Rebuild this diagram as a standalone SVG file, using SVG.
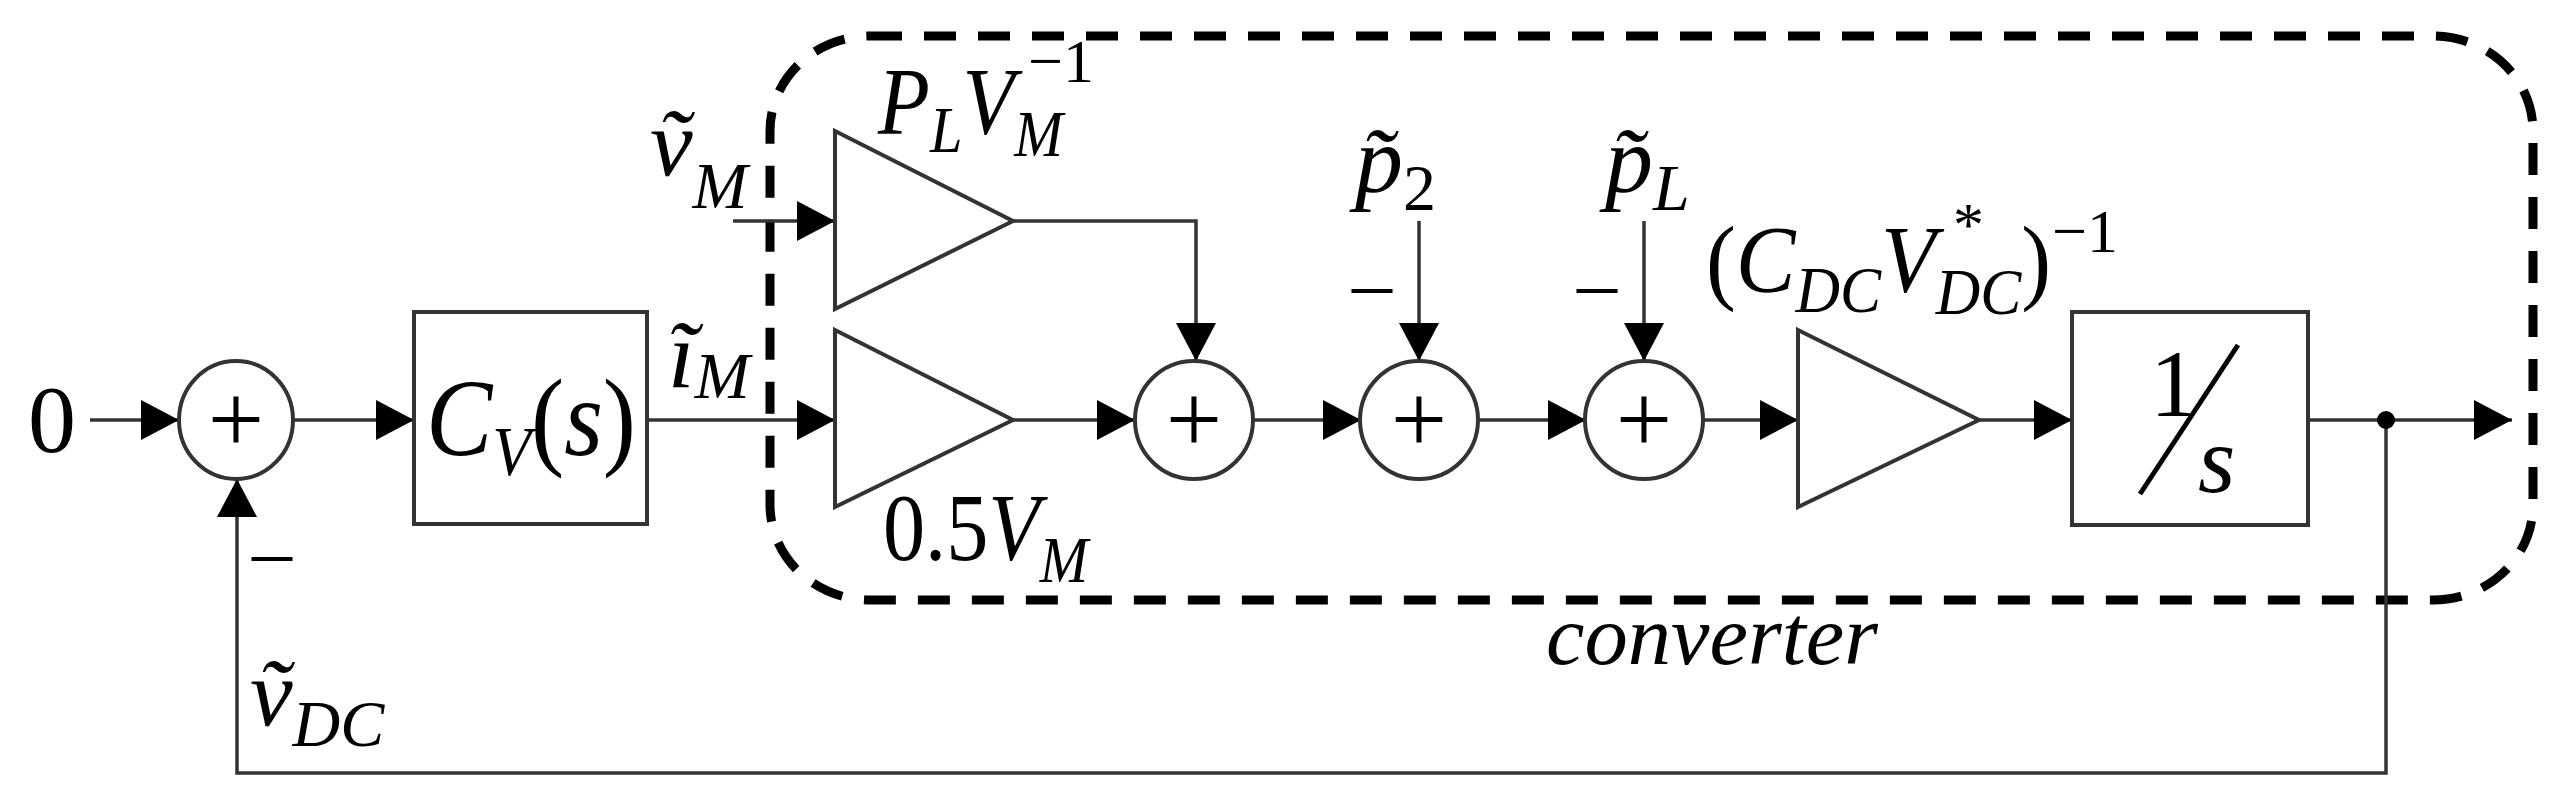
<svg xmlns="http://www.w3.org/2000/svg" width="2568" height="808" viewBox="0 0 2568 808">
<style>
.ln{fill:none;stroke:#333;stroke-width:3.5}
.bx{fill:#fff;stroke:#333;stroke-width:4}
.t{font-family:"Liberation Serif","Times New Roman","DejaVu Serif",serif;fill:#000}
.i{font-style:italic}
.p{font-family:"Liberation Serif","DejaVu Serif",serif;font-size:100px;text-anchor:middle}
</style>
<defs>
<marker id="a" markerUnits="userSpaceOnUse" markerWidth="40" markerHeight="40" refX="38" refY="20" orient="auto">
<path d="M0,0 L38,20 L0,40 Z" fill="#000"/>
</marker>
</defs>
<rect x="770" y="36" width="1763" height="564" rx="100" ry="95" fill="none" stroke="#000" stroke-width="9" stroke-dasharray="32,22"/>
<g id="connectors">
<line class="ln" x1="90" y1="420" x2="179" y2="420" marker-end="url(#a)"/>
<line class="ln" x1="294" y1="420" x2="414" y2="420" marker-end="url(#a)"/>
<line class="ln" x1="647" y1="420" x2="835" y2="420" marker-end="url(#a)"/>
<line class="ln" x1="733" y1="221" x2="835" y2="221" marker-end="url(#a)"/>
<polyline class="ln" points="1013,221 1196,221 1196,361" marker-end="url(#a)"/>
<line class="ln" x1="1013" y1="420" x2="1135" y2="420" marker-end="url(#a)"/>
<line class="ln" x1="1253" y1="420" x2="1361" y2="420" marker-end="url(#a)"/>
<line class="ln" x1="1478" y1="420" x2="1586" y2="420" marker-end="url(#a)"/>
<line class="ln" x1="1703" y1="420" x2="1798" y2="420" marker-end="url(#a)"/>
<line class="ln" x1="1979" y1="420" x2="2072" y2="420" marker-end="url(#a)"/>
<line class="ln" x1="2308" y1="420" x2="2512" y2="420" marker-end="url(#a)"/>
<line class="ln" x1="1419" y1="221" x2="1419" y2="361" marker-end="url(#a)"/>
<line class="ln" x1="1644" y1="221" x2="1644" y2="361" marker-end="url(#a)"/>
<polyline class="ln" points="2386,420 2386,773 237,773 237,479" marker-end="url(#a)"/>
<circle cx="2386" cy="420" r="9" fill="#000"/>
</g>
<g id="in0"><text class="t" x="28" y="452" font-size="96">0</text></g>
<g id="sum1"><ellipse class="bx" cx="236" cy="420" rx="57" ry="59"/><text class="t p" x="236" y="453">+</text>
<text class="t" x="252" y="578" font-size="80">–</text></g>
<g id="cv"><rect class="bx" x="414" y="312" width="233" height="212"/>
<text class="t i" x="426" y="455" font-size="110" textLength="210" lengthAdjust="spacingAndGlyphs">C<tspan font-size="70" dy="20">V</tspan><tspan font-style="normal" dy="-20">(</tspan>s<tspan font-style="normal">)</tspan></text></g>
<g id="labIM"><text class="t i" x="668" y="388" font-size="96">ĩ<tspan font-size="66" dy="10">M</tspan></text></g>
<g id="labVM"><text class="t i" x="650" y="176" font-size="96">ṽ<tspan font-size="66" dy="32">M</tspan></text></g>
<g id="gainTop"><polygon class="bx" points="835,131 1013,221 835,309"/>
<text class="t i" x="878" y="134" font-size="96" textLength="185" lengthAdjust="spacingAndGlyphs">P<tspan font-size="66" dy="18">L</tspan><tspan dy="-18">V</tspan><tspan font-size="66" dy="22">M</tspan></text>
<text class="t" x="1028" y="82" font-size="62">−1</text></g>
<g id="gainBot"><polygon class="bx" points="835,330 1013,420 835,507"/>
<text class="t" x="883" y="560" font-size="96" textLength="205" lengthAdjust="spacingAndGlyphs">0.5<tspan class="i">V</tspan><tspan class="i" font-size="66" dy="22">M</tspan></text></g>
<g id="sum2"><ellipse class="bx" cx="1194" cy="420" rx="59" ry="59"/><text class="t p" x="1194" y="453">+</text></g>
<g id="sum3"><ellipse class="bx" cx="1419" cy="420" rx="59" ry="59"/><text class="t p" x="1419" y="453">+</text>
<text class="t" x="1352" y="310" font-size="80">–</text>
<text class="t i" x="1355" y="192" font-size="96">p̃<tspan font-style="normal" font-size="66" dy="18">2</tspan></text></g>
<g id="sum4"><ellipse class="bx" cx="1644" cy="420" rx="59" ry="59"/><text class="t p" x="1644" y="453">+</text>
<text class="t" x="1577" y="310" font-size="80">–</text>
<text class="t i" x="1605" y="192" font-size="96">p̃<tspan font-size="66" dy="18">L</tspan></text></g>
<g id="gainDC"><polygon class="bx" points="1798,330 1979,420 1798,507"/>
<text class="t" x="1706" y="292" font-size="96" textLength="345" lengthAdjust="spacingAndGlyphs">(<tspan class="i">C</tspan><tspan class="i" font-size="66" dy="20">DC</tspan><tspan class="i" dy="-20">V</tspan><tspan class="i" font-size="66" dy="22">DC</tspan><tspan dy="-22">)</tspan></text>
<text class="t i" x="1950" y="245" font-size="62">*</text>
<text class="t" x="2052" y="252" font-size="62">−1</text></g>
<g id="integ"><rect class="bx" x="2072" y="312" width="236" height="213"/>
<text class="t" x="2150" y="416" font-size="96">1</text>
<line x1="2238" y1="345" x2="2140" y2="494" stroke="#000" stroke-width="5"/>
<text class="t i" x="2198" y="492" font-size="96">s</text></g>
<g id="labVDC"><text class="t i" x="250" y="726" font-size="96">ṽ<tspan font-size="66" dy="20">DC</tspan></text></g>
<g id="labConv"><text class="t i" x="1546" y="664" font-size="84" textLength="332" lengthAdjust="spacingAndGlyphs">converter</text></g>
</svg>
